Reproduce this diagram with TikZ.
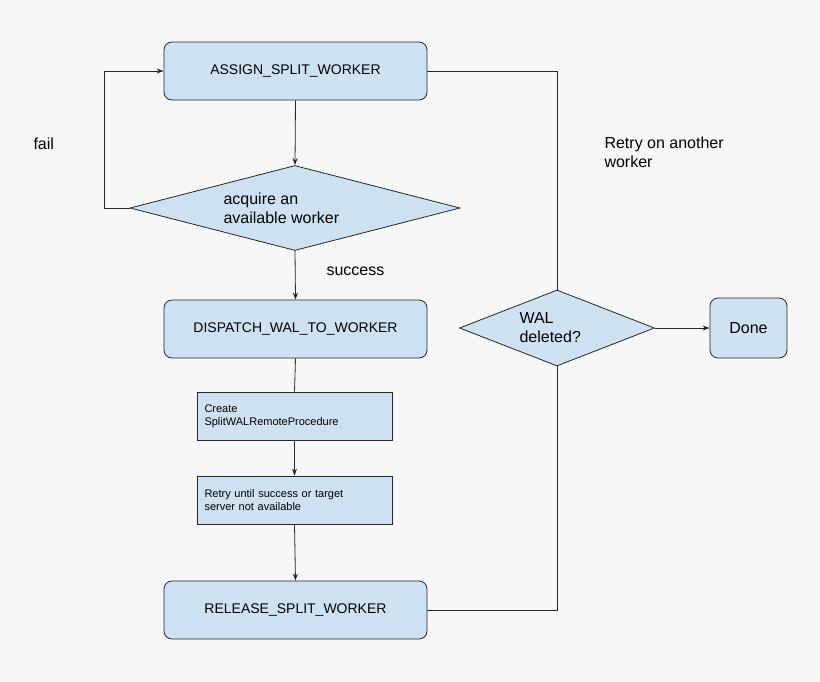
\documentclass[tikz,border=0pt]{standalone}
\usepackage{fontspec}
\setmainfont{Liberation Sans}
\usetikzlibrary{shapes.geometric,arrows.meta}
\definecolor{bg}{HTML}{F7F7F7}
\definecolor{boxf}{HTML}{CFE2F3}
\begin{document}
\begin{tikzpicture}[x=1pt,y=-1pt,
  rbox/.style={draw=black!85,fill=boxf,rounded corners=8pt,minimum width=263pt,minimum height=58pt,font=\fontsize{14}{16}\selectfont,line width=0.8pt},
  sbox/.style={draw=black!85,fill=boxf,minimum width=195pt,minimum height=48pt,font=\fontsize{11}{13}\selectfont,align=left,text width=180pt,line width=0.8pt},
  dia/.style={draw=black!85,fill=boxf,diamond,line width=0.8pt},
  lbl/.style={font=\fontsize{16}{19}\selectfont,align=left,anchor=west},
  ln/.style={line width=0.8pt,black!85},
  ar/.style={ln,-{Stealth[length=7pt,width=5pt]}}]
\fill[bg] (0,0) rectangle (820,681);
\useasboundingbox (0,0) rectangle (820,681);
\node[rbox] (assign) at (295.5,71) {ASSIGN\_SPLIT\_WORKER};
\node[dia,minimum width=330pt,minimum height=85pt,inner sep=0pt] (d1) at (295,208) {};
\node[lbl,anchor=west] (d1t) at (220,208) {acquire an\\available worker};
\node[rbox] (disp) at (295.5,329) {DISPATCH\_WAL\_TO\_WORKER};
\node[sbox] (create) at (294.5,416) {Create\\SplitWALRemoteProcedure};
\node[sbox] (retry) at (294.5,500) {Retry until success or target\\server not available};
\node[rbox] (rel) at (295.5,610) {RELEASE\_SPLIT\_WORKER};
\node[dia,minimum width=195pt,minimum height=76pt,inner sep=0pt] (d2) at (557,328) {};
\node[lbl,anchor=west] (d2t) at (516,328) {WAL\\deleted?};
\node[draw=black!85,fill=boxf,rounded corners=8pt,minimum width=77pt,minimum height=60pt,font=\fontsize{16}{19}\selectfont,line width=0.8pt] (done) at (748.5,328) {Done};
\node[lbl] (fail) at (30,144) {fail};
\node[lbl] (succ) at (323,271) {success};
\node[lbl] (ret) at (601,152) {Retry on another\\worker};
\coordinate (c1) at (104,208);
\coordinate (c2) at (104,71);
\coordinate (c3) at (557,71);
\coordinate (c4) at (557,610);
\draw[ar] (assign.south) -- (d1.north);
\draw[ar] (d1.west) -- (c1) -- (c2) -- (assign.west);
\draw[ar] (d1.south) -- (disp.north);
\draw[ln] (disp.south) -- (create.north);
\draw[ar] (create.south) -- (retry.north);
\draw[ar] (retry.south) -- (rel.north);
\draw[ln] (rel.east) -- (c4) -- (d2.south);
\draw[ln] (assign.east) -- (c3) -- (d2.north);
\draw[ar] (d2.east) -- (done.west);
\end{tikzpicture}
\end{document}
